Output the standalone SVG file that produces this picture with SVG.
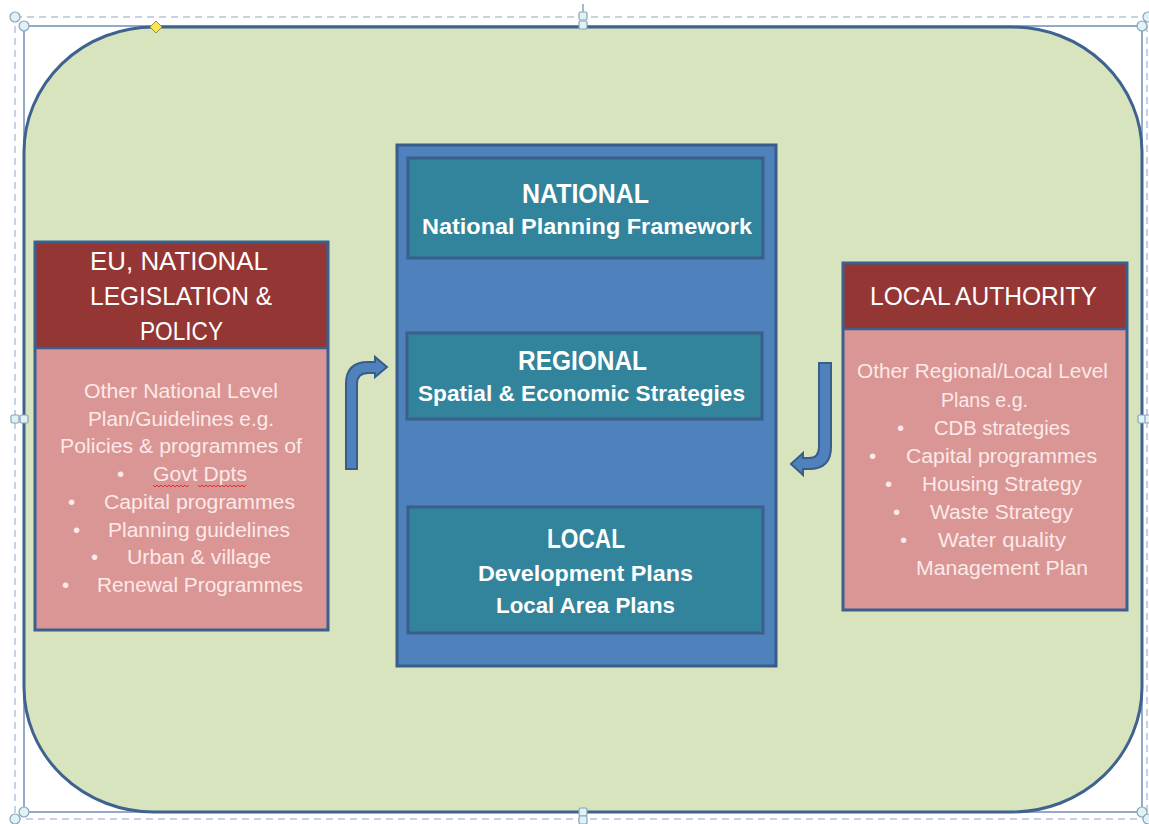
<svg xmlns="http://www.w3.org/2000/svg" width="1149" height="824" viewBox="0 0 1149 824">
<style>
.hdr{font-family:"Liberation Sans",Arial,sans-serif;fill:#ffffff;font-size:26px}
.body{font-family:"Liberation Sans",Arial,sans-serif;fill:#fde9e8;font-size:20.5px}
.ttl{font-family:"Liberation Sans",Arial,sans-serif;fill:#ffffff;font-size:27px;font-weight:bold}
.sub{font-family:"Liberation Sans",Arial,sans-serif;fill:#ffffff;font-size:22px;font-weight:bold}
.frame{fill:none;stroke:#6f8fb5;stroke-width:1.5}
.dash{fill:none;stroke:#b4c4d6;stroke-width:1.5;stroke-dasharray:7 5}
.hc{fill:#dff3f7;stroke:#8aa2b8;stroke-width:1.2}
.inner{fill:#31849b;stroke:#3a5f8a;stroke-width:3}
.arrow{fill:#4f81bd;stroke:#385d8a;stroke-width:2}
</style>
<rect width="1149" height="824" fill="#ffffff"/>
<g id="selection-frame">
<rect class="dash" x="15" y="17" width="1132" height="802"/>
<rect class="frame" x="24" y="26" width="1118" height="786"/>
<line x1="583" y1="4" x2="583" y2="13" stroke="#8aa2b8" stroke-width="1.5"/>
</g>
<g id="background">
<rect x="24" y="27" width="1118" height="785" rx="130" ry="125" fill="#d7e4bd" stroke="#3f6290" stroke-width="3"/>
</g>
<g id="handles">
<circle class="hc" cx="15" cy="17" r="5"/>
<circle class="hc" cx="24" cy="26" r="5"/>
<circle class="hc" cx="1142" cy="26" r="5"/>
<circle class="hc" cx="1148" cy="17" r="5"/>
<circle class="hc" cx="24" cy="812" r="5"/>
<circle class="hc" cx="15" cy="819" r="5"/>
<circle class="hc" cx="1142" cy="812" r="5"/>
<circle class="hc" cx="1148" cy="819" r="5"/>
<rect class="hc" x="579" y="12" width="8" height="8" rx="1.5"/>
<rect class="hc" x="579" y="21" width="8" height="8" rx="1.5"/>
<rect class="hc" x="579" y="808" width="8" height="8" rx="1.5"/>
<rect class="hc" x="579" y="816" width="8" height="8" rx="1.5"/>
<rect class="hc" x="11" y="415" width="8" height="8" rx="1.5"/>
<rect class="hc" x="20" y="415" width="8" height="8" rx="1.5"/>
<rect class="hc" x="1138" y="415" width="8" height="8" rx="1.5"/>
<rect class="hc" x="1145" y="415" width="8" height="8" rx="1.5"/>
<polygon points="156,21 162,27 156,33 150,27" fill="#f5e65a" stroke="#a09030" stroke-width="1"/>
</g>
<g id="node-eu-national">
<rect x="35" y="242" width="293" height="106" fill="#943634"/>
<rect x="35" y="348" width="293" height="282" fill="#d99694"/>
<line x1="35" y1="348" x2="328" y2="348" stroke="#3b5f8f" stroke-width="2.5"/>
<rect x="35" y="242" width="293" height="388" fill="none" stroke="#3b5f8f" stroke-width="3"/>
<text class="hdr" x="90" y="270" textLength="178" lengthAdjust="spacingAndGlyphs">EU, NATIONAL</text>
<text class="hdr" x="90" y="305" textLength="182" lengthAdjust="spacingAndGlyphs">LEGISLATION &amp;</text>
<text class="hdr" x="140" y="340" textLength="83" lengthAdjust="spacingAndGlyphs">POLICY</text>
<text class="body" x="84" y="398" textLength="194" lengthAdjust="spacingAndGlyphs">Other National Level</text>
<text class="body" x="88" y="426" textLength="186" lengthAdjust="spacingAndGlyphs">Plan/Guidelines e.g.</text>
<text class="body" x="60" y="453" textLength="242" lengthAdjust="spacingAndGlyphs">Policies &amp; programmes of</text>
<text class="body" x="117" y="481">•</text>
<text class="body" x="153" y="481" textLength="94" lengthAdjust="spacingAndGlyphs">Govt Dpts</text>
<path d="M153,485 l2,2 l2,-2 l2,2 l2,-2 l2,2 l2,-2 l2,2 l2,-2 l2,2 l2,-2 l2,2 l2,-2 l2,2 l2,-2 l2,2 l2,-2 l2,2 l2,-2 M198,485 l2,2 l2,-2 l2,2 l2,-2 l2,2 l2,-2 l2,2 l2,-2 l2,2 l2,-2 l2,2 l2,-2 l2,2 l2,-2 l2,2 l2,-2 l2,2 l2,-2 l2,2 l2,-2 l2,2 l2,-2 l2,2 l2,-2" fill="none" stroke="#e03030" stroke-width="1"/>
<text class="body" x="68" y="509">•</text>
<text class="body" x="104" y="509" textLength="191" lengthAdjust="spacingAndGlyphs">Capital programmes</text>
<text class="body" x="73" y="537">•</text>
<text class="body" x="108" y="537" textLength="182" lengthAdjust="spacingAndGlyphs">Planning guidelines</text>
<text class="body" x="91" y="564">•</text>
<text class="body" x="127" y="564" textLength="144" lengthAdjust="spacingAndGlyphs">Urban &amp; village</text>
<text class="body" x="62" y="592">•</text>
<text class="body" x="97" y="592" textLength="206" lengthAdjust="spacingAndGlyphs">Renewal Programmes</text>
</g>
<g id="container-planning">
<rect x="397" y="145" width="379" height="521" fill="#4f81bd" stroke="#385d8a" stroke-width="3"/>
</g>
<g id="node-national">
<rect class="inner" x="408" y="158" width="355" height="100"/>
<text class="ttl" x="522" y="203" textLength="127" lengthAdjust="spacingAndGlyphs">NATIONAL</text>
<text class="sub" x="422" y="234" textLength="330" lengthAdjust="spacingAndGlyphs">National Planning Framework</text>
</g>
<g id="node-regional">
<rect class="inner" x="407" y="333" width="355" height="86"/>
<text class="ttl" x="518" y="370" textLength="129" lengthAdjust="spacingAndGlyphs">REGIONAL</text>
<text class="sub" x="418" y="401" textLength="327" lengthAdjust="spacingAndGlyphs">Spatial &amp;  Economic Strategies</text>
</g>
<g id="node-local">
<rect class="inner" x="408" y="507" width="355" height="126"/>
<text class="ttl" x="547" y="548" textLength="78" lengthAdjust="spacingAndGlyphs">LOCAL</text>
<text class="sub" x="478" y="581" textLength="215" lengthAdjust="spacingAndGlyphs">Development Plans</text>
<text class="sub" x="496" y="613" textLength="179" lengthAdjust="spacingAndGlyphs">Local Area Plans</text>
</g>
<g id="node-local-authority">
<rect x="843" y="263" width="284" height="66" fill="#943634"/>
<rect x="843" y="329" width="284" height="281" fill="#d99694"/>
<line x1="843" y1="329" x2="1127" y2="329" stroke="#3b5f8f" stroke-width="2.5"/>
<rect x="843" y="263" width="284" height="347" fill="none" stroke="#3b5f8f" stroke-width="3"/>
<text class="hdr" x="870" y="305" textLength="227" lengthAdjust="spacingAndGlyphs">LOCAL AUTHORITY</text>
<text class="body" x="857" y="378" textLength="251" lengthAdjust="spacingAndGlyphs">Other Regional/Local Level</text>
<text class="body" x="941" y="407" textLength="87" lengthAdjust="spacingAndGlyphs">Plans e.g.</text>
<text class="body" x="897" y="435">•</text>
<text class="body" x="934" y="435" textLength="136" lengthAdjust="spacingAndGlyphs">CDB strategies</text>
<text class="body" x="869" y="463">•</text>
<text class="body" x="906" y="463" textLength="191" lengthAdjust="spacingAndGlyphs">Capital programmes</text>
<text class="body" x="885" y="491">•</text>
<text class="body" x="922" y="491" textLength="160" lengthAdjust="spacingAndGlyphs">Housing Strategy</text>
<text class="body" x="893" y="519">•</text>
<text class="body" x="930" y="519" textLength="143" lengthAdjust="spacingAndGlyphs">Waste Strategy</text>
<text class="body" x="900" y="547">•</text>
<text class="body" x="938" y="547" textLength="128" lengthAdjust="spacingAndGlyphs">Water quality</text>
<text class="body" x="916" y="575" textLength="172" lengthAdjust="spacingAndGlyphs">Management Plan</text>
</g>
<g id="connectors">
<path class="arrow" d="M346,469 L346,384 Q346,362 368,362 L375,362 L375,357 L387,367 L375,377 L375,373 L368,373 Q357,373 357,384 L357,469 Z"/>
<path class="arrow" d="M819,363 L831,363 L831,447 Q831,469 809,469 L803,469 L803,475 L791,464 L803,453 L803,458 L809,458 Q819,458 819,447 Z"/>
</g>
</svg>
